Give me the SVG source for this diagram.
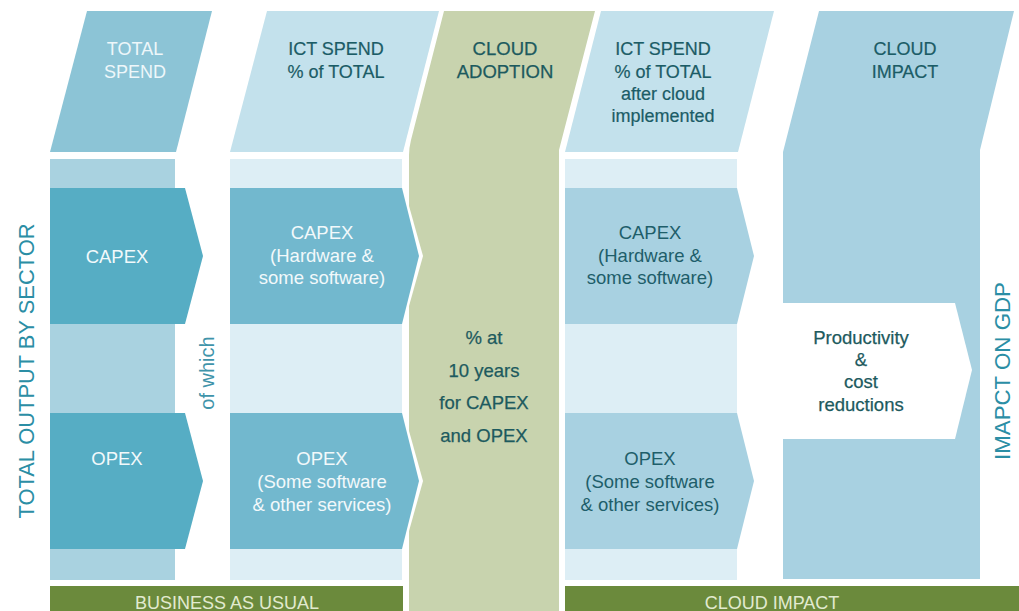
<svg xmlns="http://www.w3.org/2000/svg" width="1019" height="611" viewBox="0 0 1019 611">
<style>
text{font-family:"Liberation Sans",Arial,sans-serif;text-anchor:middle}
.h{font-size:18px;fill:#1b5c66;stroke:#1b5c66;stroke-width:0.2}
.hw{font-size:18px;fill:#eef7fa}
.w{font-size:18.5px;fill:#f2f9fb}
.d{font-size:18.5px;fill:#1e5e6a}
.g{font-size:18.5px;fill:#1d5a5e;stroke:#1d5a5e;stroke-width:0.25}
.v{font-size:22px;fill:#2b8ea5}
.bar{font-size:18px;fill:#e2ead0}
</style>
<rect width="1019" height="611" fill="#ffffff"/>

<g id="col-total-spend">
<polygon points="87,11 212,11 176,152 50,152" fill="#8cc4d6"/>
<rect x="50" y="159" width="125" height="421" fill="#a9d2e0"/>
<text class="hw" x="135" y="55">TOTAL</text>
<text class="hw" x="135" y="78">SPEND</text>
</g>
<g id="capex-1">
<polygon points="50,188 185,188 203,256 185,324 50,324" fill="#56adc4"/>
<text class="w" x="117" y="263">CAPEX</text>
</g>
<g id="opex-1">
<polygon points="50,413 185,413 203,481 185,549 50,549" fill="#56adc4"/>
<text class="w" x="117" y="465">OPEX</text>
</g>

<g id="col-cloud-adoption">
<path d="M444,11 L595,11 L559,150 L559,611 L409,611 L409,155 Q409,148 411,140 Z" fill="#c8d3ae"/>
<text class="g" x="505" y="55">CLOUD</text>
<text class="g" x="505" y="78">ADOPTION</text>
<text class="g" x="484" y="344">% at</text>
<text class="g" x="484" y="377">10 years</text>
<text class="g" x="484" y="409">for CAPEX</text>
<text class="g" x="484" y="442">and OPEX</text>
</g>

<g id="col-ict-spend">
<polygon points="267,11 439,11 403,152 230,152" fill="#c3e1ec"/>
<rect x="230" y="159" width="172" height="421" fill="#ddeef5"/>
<text class="h" x="336" y="55">ICT SPEND</text>
<text class="h" x="336" y="78">% of TOTAL</text>
</g>
<g id="capex-2">
<polygon points="396,188 404,188 423,256 404,324 396,324" fill="#ffffff"/>
<polygon points="230,188 402,188 419,256 402,324 230,324" fill="#72b8ce"/>
<text class="w" x="322" y="239">CAPEX</text>
<text class="w" x="322" y="262">(Hardware &amp;</text>
<text class="w" x="322" y="284">some software)</text>
</g>
<g id="opex-2">
<polygon points="396,413 404,413 423,481 404,549 396,549" fill="#ffffff"/>
<polygon points="230,413 402,413 419,481 402,549 230,549" fill="#72b8ce"/>
<text class="w" x="322" y="465">OPEX</text>
<text class="w" x="322" y="488">(Some software</text>
<text class="w" x="322" y="511">&amp; other services)</text>
</g>

<g id="col-ict-after">
<polygon points="601,11 774,11 738,152 565,152" fill="#c3e1ec"/>
<rect x="565" y="159" width="172" height="421" fill="#ddeef5"/>
<text class="h" x="663" y="55">ICT SPEND</text>
<text class="h" x="663" y="78">% of TOTAL</text>
<text class="h" x="663" y="100">after cloud</text>
<text class="h" x="663" y="122">implemented</text>
</g>
<g id="capex-4">
<polygon points="565,188 737,188 754,256 737,324 565,324" fill="#a8d1e1"/>
<text class="d" x="650" y="239">CAPEX</text>
<text class="d" x="650" y="262">(Hardware &amp;</text>
<text class="d" x="650" y="284">some software)</text>
</g>
<g id="opex-4">
<polygon points="565,413 737,413 754,481 737,549 565,549" fill="#a8d1e1"/>
<text class="d" x="650" y="465">OPEX</text>
<text class="d" x="650" y="488">(Some software</text>
<text class="d" x="650" y="511">&amp; other services)</text>
</g>

<g id="col-cloud-impact">
<polygon points="819,11 1014,11 980,150 980,579 783,579 783,152" fill="#a8d1e1"/>
<text class="h" x="905" y="55">CLOUD</text>
<text class="h" x="905" y="78">IMPACT</text>
</g>
<g id="productivity">
<polygon points="783,303 955,303 972,370 955,439 783,439" fill="#ffffff"/>
<text class="g" x="861" y="344">Productivity</text>
<text class="g" x="861" y="366">&amp;</text>
<text class="g" x="861" y="388">cost</text>
<text class="g" x="861" y="411">reductions</text>
</g>

<g id="labels">
<text class="v" transform="translate(34,371) rotate(-90)" textLength="295" lengthAdjust="spacingAndGlyphs">TOTAL OUTPUT BY SECTOR</text>
<text class="v" transform="translate(1010,371) rotate(-90)" textLength="178" lengthAdjust="spacingAndGlyphs">IMAPCT ON GDP</text>
<text transform="translate(214,373) rotate(-90)" style="font-size:20px;fill:#3f94aa">of which</text>
</g>

<g id="bar-bau">
<rect x="50" y="586" width="353" height="25" fill="#6b8a3c"/>
<text class="bar" x="227" y="609">BUSINESS AS USUAL</text>
</g>
<g id="bar-cloud">
<rect x="565" y="586" width="454" height="25" fill="#6b8a3c"/>
<text class="bar" x="772" y="609">CLOUD IMPACT</text>
</g>
<g id="connectors"></g>
</svg>
